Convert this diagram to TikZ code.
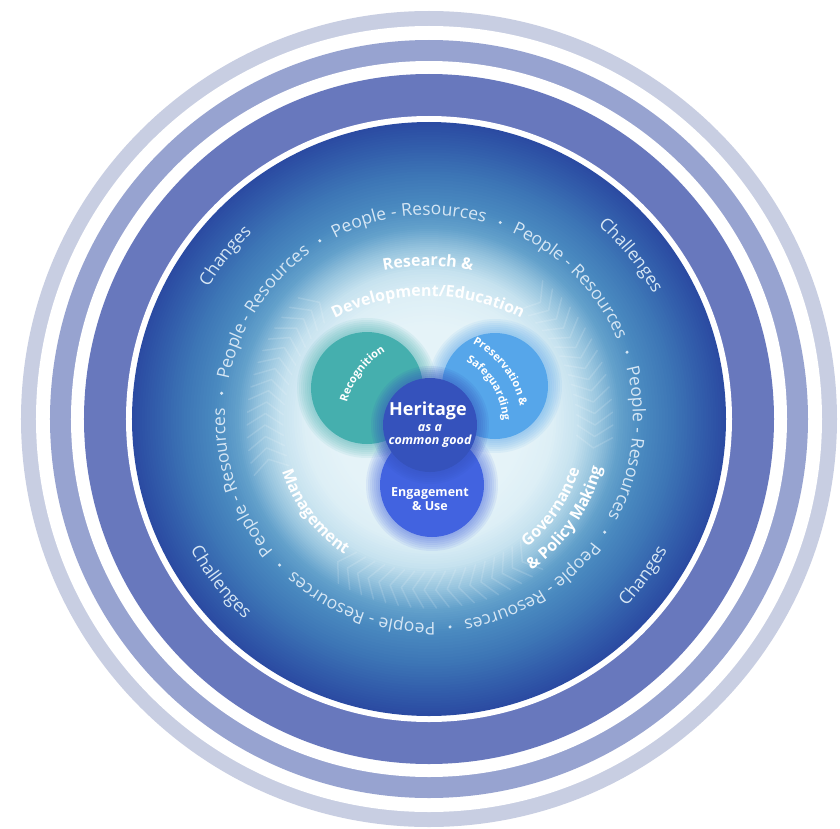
\documentclass[tikz,border=0pt]{standalone}
\usepackage{fontspec}
\setmainfont{Open Sans}
\usetikzlibrary{decorations.text}
\definecolor{ringA}{HTML}{C8CEE2}
\definecolor{ringB}{HTML}{97A3D0}
\definecolor{ringC}{HTML}{6878BD}
\definecolor{gA}{HTML}{2B4BA2}
\definecolor{gB}{HTML}{335FAC}
\definecolor{gC}{HTML}{3D76B6}
\definecolor{gD}{HTML}{4A8AC0}
\definecolor{gE}{HTML}{63A1CB}
\definecolor{gF}{HTML}{96C4DE}
\definecolor{gG}{HTML}{C6E2EF}
\definecolor{gH}{HTML}{DDEFF6}
\definecolor{gI}{HTML}{E5F3F8}
\definecolor{recogc}{HTML}{45AFAE}
\definecolor{presc}{HTML}{56A6EA}
\definecolor{engc}{HTML}{4263E0}
\definecolor{heric}{HTML}{3552BC}
\definecolor{ringtext}{HTML}{D6E6F4}

\newcommand{\fR}{\fontsize{17.5}{21}\selectfont\color{ringtext}}
\newcommand{\fB}{\fontsize{16}{19}\selectfont\bfseries\color{white}}
\newcommand{\fS}{\fontsize{11}{13}\selectfont\bfseries\color{white}}

\newcommand{\cwlabel}[6]{\path[shift={(#1,#2)},decorate,decoration={text along path,text align=center,text={#6}}] ({#4+#5}:#3) arc[start angle={#4+#5}, end angle={#4-#5}, radius=#3];}
\newcommand{\ccwlabel}[6]{\path[shift={(#1,#2)},decorate,decoration={text along path,text align=center,text={#6}}] ({#4-#5}:#3) arc[start angle={#4-#5}, end angle={#4+#5}, radius=#3];}

\begin{document}
\begin{tikzpicture}[x=1pt,y=1pt,
  chevron/.style={white, opacity=0.14, line width=1.5pt, line cap=round, line join=round},
  vennlabel/.style={text=white, align=center, inner sep=0pt},
  venndisk/.style={circle, inner sep=0pt, minimum size=#1}]
\useasboundingbox (-429,-409) rectangle (411,419);
\fill[white] (-429,-409) rectangle (411,419);
% outer rings
\fill[ringA] (0,0) circle[radius=408];
\fill[white] (0,0) circle[radius=393];
\fill[ringB] (0,0) circle[radius=379];
\fill[white] (0,0) circle[radius=358];
\fill[ringC] (0,0) circle[radius=345];
\fill[white] (0,0) circle[radius=303];
% disk with radial gradient
\foreach \ra/\rb/\ca/\cb in {297/272/gA/gB,272/245/gB/gC,245/215/gC/gD,215/192/gD/gE,192/172/gE/gF,172/150/gF/gG,150/125/gG/gH,125/95/gH/gI}{
  \foreach \kk in {0,...,9}{
    \pgfmathsetmacro\rr{\ra-(\ra-\rb)*\kk/10}
    \pgfmathtruncatemacro\pp{100-10*\kk}
    \fill[fill={\ca!\pp!\cb}] (0,0) circle[radius=\rr];
  }
}
\fill[gI] (0,0) circle[radius=95];
% chevrons
\begin{scope}[shift={(1,-6)}]
\foreach \a in {132,136,...,192,-8,-4,...,48,-124,-120,...,-56}{
  \draw[chevron] ({\a+4}:147) -- (\a:165) -- ({\a+4}:183);
}
\end{scope}
% People - Resources ring
\foreach \i in {0,...,6}{
  \pgfmathsetmacro\ang{95.8-51.43*\i}
  \cwlabel{0}{0}{204}{\ang}{30}{|\fR|People - Resources}
  \pgfmathsetmacro\dang{121.5-51.43*\i}
  \fill[ringtext] (\dang:209) circle[radius=1.7];
}
% Changes / Challenges
\cwlabel{0}{0}{257}{141.3}{20}{|\fR|Changes}
\cwlabel{0}{0}{257}{39}{22}{|\fR|Challenges}
\ccwlabel{0}{0}{272}{218}{22}{|\fR|Challenges}
\ccwlabel{0}{0}{272}{-36.2}{20}{|\fR|Changes}
% Venn circles (soft edges)
\foreach \x/\y/\r/\c in {-62/31/56/recogc, 66/33/53/presc, 3/-66/52/engc}{
  \foreach \kk in {14,12,...,2}{\fill[\c, opacity=0.09] (\x,\y) circle[radius={\r+\kk}];}
}
\node[venndisk=112, fill=recogc] (recognition) at (-62,31) {};
\node[venndisk=106, fill=presc] (preservation) at (66,33) {};
\node[venndisk=104, fill=engc] (engagementdisk) at (3,-66) {};
\foreach \kk in {12,10,...,2}{\fill[heric, opacity=0.1] (1,-6) circle[radius={47+\kk}];}
\node[venndisk=94, fill=heric] (heritagedisk) at (1,-6) {};
% inner labels on circles
\cwlabel{1}{-6}{86}{143}{40}{|\fS|Recognition}
\cwlabel{1}{-6}{92}{37}{45}{|\fS|Preservation {\&}}
\cwlabel{1}{-6}{73}{32}{50}{|\fS|Safeguarding}
\node[vennlabel, font=\fontsize{18}{20}\selectfont\bfseries] (heritage) at (-1,8) {Heritage};
\node[vennlabel, font=\fontsize{12.5}{14}\selectfont\bfseries\itshape] (asa) at (1,-9) {as a};
\node[vennlabel, font=\fontsize{12.5}{14}\selectfont\bfseries\itshape] (commongood) at (1,-22) {common good};
\node[vennlabel, font=\fontsize{12.5}{14.5}\selectfont\bfseries] (engagement) at (1,-80) {Engagement\\\& Use};
% ring labels around the Venn
\cwlabel{-1}{-81}{234}{90}{25}{|\fB|Research {\&}}
\cwlabel{-1}{-81}{204}{90}{35}{|\fB|Development/Education}
\ccwlabel{1}{-6}{155}{217}{30}{|\fB|Management}
\ccwlabel{1}{-6}{156}{-34}{28}{|\fB|Governance}
\ccwlabel{1}{-6}{177}{-34.5}{30}{|\fB|{\&} Policy Making}
\end{tikzpicture}
\end{document}
